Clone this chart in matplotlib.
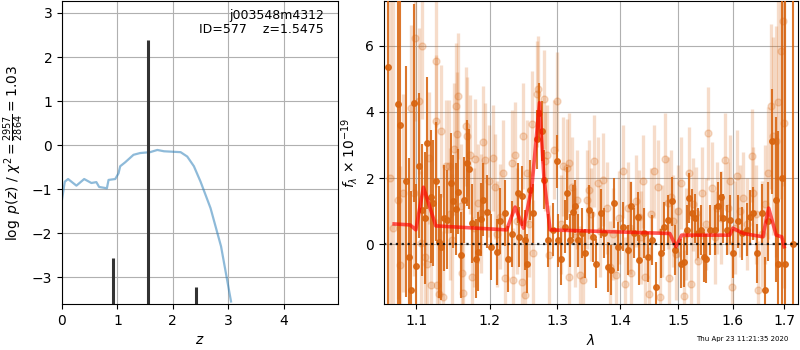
import numpy as np
import matplotlib
matplotlib.use("Agg")
import matplotlib.pyplot as plt

# --- p(z) panel ---
z_grid = [0.0, 0.05, 0.11, 0.26, 0.40, 0.53, 0.62, 0.67, 0.81, 0.84, 0.96, 1.02, 1.05, 1.14,
          1.29, 1.41, 1.59, 1.72, 1.84, 2.14, 2.26, 2.38, 2.50, 2.68, 2.87, 3.05]
logpz = [-1.24, -0.83, -0.77, -0.92, -0.77, -0.86, -0.84, -0.95, -0.98, -0.79, -0.77, -0.64, -0.48,
         -0.39, -0.22, -0.18, -0.16, -0.11, -0.14, -0.16, -0.26, -0.48, -0.83, -1.43, -2.30, -3.55]
z_peaks = [0.927, 1.545, 2.418]
peak_vals = [-2.57, 2.38, -3.23]

# --- spectrum panel: strong (dark) points ---
dark_lam = [1.064, 1.0765, 1.079, 1.087, 1.091, 1.094, 1.0975, 1.100, 1.104, 1.108, 1.1118, 1.1149,
            1.1193, 1.1228, 1.1268, 1.1304, 1.1334, 1.1371, 1.1415, 1.1460, 1.1496, 1.1528, 1.1560,
            1.1605, 1.1642, 1.1679, 1.1715, 1.1757, 1.1804, 1.1840, 1.1874, 1.1911, 1.1958, 1.2024,
            1.2101, 1.2148, 1.2220, 1.2267, 1.2321, 1.2405, 1.2429, 1.2473, 1.2513, 1.2547, 1.2587,
            1.2636, 1.2687, 1.2726, 1.2772, 1.2797, 1.2862, 1.2934, 1.2991, 1.3016, 1.3062, 1.3119,
            1.3155, 1.3197, 1.3239, 1.3275, 1.3327, 1.3381, 1.3433, 1.3502, 1.3557, 1.3610, 1.3691,
            1.3744, 1.3800, 1.3853, 1.3907, 1.3963, 1.4046, 1.4129, 1.4185, 1.4240, 1.4297, 1.4324,
            1.4409, 1.4467, 1.4533, 1.4610, 1.4697, 1.4754, 1.4814, 1.4890, 1.4948, 1.5049, 1.5108,
            1.5151, 1.5197, 1.5245, 1.5300, 1.5348, 1.5408, 1.5469, 1.5500, 1.5573, 1.5666, 1.5727,
            1.5772, 1.5820, 1.5884, 1.5946, 1.6009, 1.6104, 1.6168, 1.6264, 1.6328, 1.6380, 1.6457,
            1.6555, 1.6620, 1.6685, 1.6751, 1.6837, 1.6883, 1.6951, 1.7018, 1.7173]
dark_flux = [5.35, 4.23, 3.62, 1.90, -0.39, -1.40, 4.28, -0.67, 2.37, 1.04, 0.79, 3.07,
             1.44, 1.25, 1.90, 0.07, -0.08, 0.78, 0.73, 1.85, 1.29, 1.06, 1.59,
             -0.33, 1.34, 2.46, 2.27, 0.63, -0.44, -0.23, 0.75, 1.34, 0.98, -0.08,
             -0.23, 0.69, 0.93, -0.44, 0.30, 1.54, 0.22, 1.46, 0.12, -0.59, 1.64,
             0.93, 3.17, 3.98, 3.42, 1.95, 0.12, 0.43, 2.51, 0.12, -0.44, 0.53,
             1.54, 0.12, 0.98, 1.14, 0.12, 0.33, -0.28, 1.04, 0.22, -0.59, 0.93,
             0.33, -0.69, -0.79, 1.24, -0.08, 0.53, -0.18, 1.14, 0.33, 0.83, -0.49,
             0.33, -0.39, 0.12, -1.30, -0.28, 0.53, 0.73, 1.29, -0.18, -0.59, -0.54,
             0.43, 1.39, 0.93, 0.78, 0.33, 0.43, -0.39, -0.44, 0.43, 0.43, 1.14,
             1.44, 0.78, 0.43, 0.73, -0.28, 0.69, 0.33, 0.43, 0.83, 0.93, -0.28,
             0.93, -1.40, 0.69, 3.11, 1.34, -0.59, 2.00, -0.59, 0.00]
dark_err = [9, 9, 9, 3.5, 3.0, 3.0, 3.0, 2.5, 2.2, 2.0, 2.0, 2.0,
            2.0, 1.9, 1.8, 1.7, 1.6, 1.6, 1.5, 1.5, 1.4, 1.4, 1.3,
            1.3, 1.3, 1.3, 1.2, 1.2, 1.2, 1.2, 1.1, 1.1, 1.1, 1.0,
            1.0, 1.0, 1.0, 1.0, 1.0, 0.9, 0.9, 0.9, 0.9, 0.9, 0.9,
            0.9, 0.9, 0.9, 0.9, 0.9, 0.8, 0.8, 0.8, 0.8, 0.8, 0.8,
            0.8, 0.8, 0.8, 0.8, 0.8, 0.75, 0.75, 0.75, 0.75, 0.75, 0.75,
            0.75, 0.75, 0.75, 0.75, 0.75, 0.75, 0.75, 0.75, 0.75, 0.75, 0.75,
            0.75, 0.75, 0.75, 0.75, 0.75, 0.75, 0.75, 0.75, 0.75, 0.75, 0.75,
            0.75, 0.75, 0.75, 0.75, 0.75, 0.75, 0.75, 0.75, 0.75, 0.75, 0.75,
            0.75, 0.75, 0.75, 0.75, 0.75, 0.8, 0.8, 0.8, 0.8, 0.8, 0.9,
            0.9, 1.0, 1.2, 1.6, 2.5, 4.0, 6.0, 9, 9]

# --- spectrum panel: weak (light) points ---
light_lam = [1.0660, 1.0705, 1.0765, 1.0787, 1.0832, 1.0931, 1.0975, 1.0987, 1.1039, 1.1062, 1.1083,
             1.1114, 1.1141, 1.1171, 1.1193, 1.1259, 1.1265, 1.1273, 1.1304, 1.1334, 1.1361, 1.1393,
             1.1437, 1.1450, 1.1482, 1.1504, 1.1528, 1.1541, 1.1560, 1.1605, 1.1619, 1.1632, 1.1665,
             1.1687, 1.1725, 1.1757, 1.1780, 1.1790, 1.1836, 1.1874, 1.1911, 1.1939, 1.1991, 1.2043,
             1.2076, 1.2100, 1.2148, 1.2196, 1.2220, 1.2317, 1.2341, 1.2366, 1.2400, 1.2464, 1.2488,
             1.2513, 1.2538, 1.2570, 1.2621, 1.2636, 1.2687, 1.2711, 1.2797, 1.2812, 1.2847, 1.2877,
             1.2950, 1.2991, 1.3050, 1.3093, 1.3145, 1.3176, 1.3186, 1.3224, 1.3270, 1.3311, 1.3354,
             1.3406, 1.3460, 1.3502, 1.3530, 1.3578, 1.3642, 1.3670, 1.3718, 1.3780, 1.3837, 1.3890,
             1.3935, 1.3990, 1.4046, 1.4084, 1.4129, 1.4170, 1.4185, 1.4260, 1.4324, 1.4360, 1.4382,
             1.4421, 1.4495, 1.4520, 1.4581, 1.4640, 1.4679, 1.4720, 1.4772, 1.4814, 1.4842, 1.4872,
             1.4910, 1.4960, 1.5000, 1.5049, 1.5108, 1.5130, 1.5197, 1.5218, 1.5270, 1.5318, 1.5354,
             1.5426, 1.5490, 1.5542, 1.5604, 1.5660, 1.5697, 1.5780, 1.5852, 1.5910, 1.5946, 1.5978,
             1.6030, 1.6073, 1.6140, 1.6201, 1.6270, 1.6361, 1.6393, 1.6450, 1.6490, 1.6560, 1.6620,
             1.6685, 1.6732, 1.6783, 1.6837, 1.6883, 1.6931, 1.6984, 1.6990]
light_flux = [2.00, 0.50, 1.34, -0.64, 1.54, 4.13, 1.54, 6.23, 4.33, 0.02, 5.99,
              -0.39, -0.61, 2.61, -1.25, 5.55, 3.72, -1.25, -1.50, 3.42, -1.60, 2.35,
              2.35, 0.90, 0.12, 2.89, 4.18, 3.32, 4.48, 1.14, -0.89, -1.48, 3.57,
              3.27, 2.71, -0.99, 0.50, 2.58, 1.24, 0.93, 3.08, 2.56, 1.90, 2.61,
              1.74, 0.30, 0.83, 2.15, -1.04, 2.46, -1.10, 2.71, 0.70, -1.15, 3.27,
              -1.55, 2.15, 0.60, 3.65, -0.28, 4.54, 4.69, 4.38, 2.51, 2.71, -0.33,
              2.86, 4.33, 0.60, 2.35, 2.30, 2.46, -0.99, 1.74, 0.20, 1.34, -0.94,
              -1.10, 1.34, 1.64, 0.90, 2.51, 1.85, 0.40, 1.95, 1.10, -0.70, 0.30,
              -0.94, 0.80, 2.20, -1.20, 1.09, 0.50, -0.89, 1.30, 0.83, 0.20, 1.90,
              -1.00, -1.50, 0.90, 2.20, 1.74, -1.60, 0.40, 2.58, 1.24, -1.04, 1.44,
              0.70, -0.30, 1.00, 1.85, -1.58, 0.30, 2.15, -1.20, 1.20, 0.93, -0.50,
              1.54, 0.60, 3.35, 1.69, 0.20, 1.09, 0.80, 2.56, 1.10, 1.90, -1.30,
              0.50, 2.05, 1.00, 1.39, 0.60, 2.68, 1.54, 0.90, -1.40, 0.30, 1.20,
              2.15, 4.18, 3.27, 3.11, 4.30, 5.85, 6.77, 3.67]
light_err = [9, 9, 3.0, 3.0, 3.0, 2.5, 2.5, 2.5, 2.2, 2.2, 2.2,
             2.0, 2.0, 2.0, 2.0, 2.0, 2.0, 2.0, 2.0, 2.0, 2.0, 2.0,
             2.0, 2.0, 2.0, 2.0, 1.9, 1.9, 1.9, 1.9, 1.9, 1.9, 1.8,
             1.8, 1.8, 1.8, 1.8, 1.8, 1.8, 1.8, 1.7, 1.7, 1.7, 1.6,
             1.6, 1.6, 1.6, 1.6, 1.6, 1.6, 1.6, 1.6, 1.6, 1.6, 1.6,
             1.6, 1.6, 1.6, 1.6, 1.6, 1.6, 1.6, 1.5, 1.5, 1.5, 1.5,
             1.5, 1.5, 1.5, 1.5, 1.5, 1.5, 1.5, 1.5, 1.5, 1.5, 1.5,
             1.5, 1.5, 1.5, 1.4, 1.4, 1.4, 1.4, 1.4, 1.4, 1.4, 1.4,
             1.4, 1.4, 1.4, 1.4, 1.4, 1.4, 1.4, 1.4, 1.4, 1.4, 1.4,
             1.4, 1.4, 1.4, 1.4, 1.4, 1.4, 1.4, 1.4, 1.4, 1.4, 1.4,
             1.4, 1.4, 1.4, 1.4, 1.4, 1.4, 1.4, 1.4, 1.4, 1.4, 1.4,
             1.4, 1.4, 1.4, 1.4, 1.4, 1.4, 1.4, 1.4, 1.4, 1.4, 1.4,
             1.4, 1.4, 1.4, 1.4, 1.4, 1.4, 1.4, 1.5, 1.5, 1.6, 1.8,
             2.0, 2.5, 3.0, 3.5, 4.0, 4.5, 5.0, 5.0]

# --- best-fit model ---
model_lam = [1.0718, 1.0922, 1.0996, 1.1096, 1.1259, 1.2244, 1.2366, 1.2488, 1.2612, 1.2728,
             1.2797, 1.2888, 1.485, 1.4958, 1.5058, 1.594, 1.600, 1.620, 1.6576, 1.669, 1.684,
             1.695, 1.700]
model_flux = [0.61, 0.58, 0.43, 1.72, 0.55, 0.43, 1.12, 0.48, 1.70, 4.28,
              1.95, 0.43, 0.32, -0.08, 0.27, 0.27, 0.48, 0.32, 0.22, 1.09, 0.27,
              0.22, -0.08]

lam_ticks = [1.1, 1.2, 1.3, 1.4, 1.5, 1.6, 1.7]

orange = '#d8640f'

fig = plt.figure(figsize=(8, 3.5), dpi=100)

# ---- left: redshift PDF ----
ax1 = fig.add_axes([0.0775, 0.131, 0.345, 0.866])
ax1.plot(z_grid, logpz, color='tab:blue', alpha=0.5, lw=1.6)
ax1.vlines(z_peaks, -3.61, peak_vals, color='0.2', lw=2.2)
ax1.set_xlim(0, 4.98)
ax1.set_ylim(-3.61, 3.27)
ax1.set_xticks([0, 1, 2, 3, 4])
ax1.set_yticks([-3, -2, -1, 0, 1, 2, 3])
ax1.grid(True)
ax1.set_axisbelow(True)
ax1.set_xlabel(r'$z$')
ax1.set_ylabel(r'$\log\ p(z)$ / $\chi^2=\frac{2957}{2864}=1.03$')
ax1.text(0.95, 0.975, 'j003548m4312\nID=577    z=1.5475', transform=ax1.transAxes,
         ha='right', va='top', fontsize=9, linespacing=1.1)

# ---- right: spectrum ----
ax2 = fig.add_axes([0.48, 0.131, 0.5175, 0.866])
ax2.errorbar(light_lam, light_flux, yerr=light_err, fmt='o', color=orange, alpha=0.22,
             markersize=5, elinewidth=2.4, capsize=0, zorder=2)
ax2.errorbar(dark_lam, dark_flux, yerr=dark_err, fmt='o', color=orange, alpha=0.88,
             markersize=4, elinewidth=1.5, capsize=0, zorder=3)
ax2.plot(model_lam, model_flux, color='r', alpha=0.65, lw=2.6, zorder=4)
ax2.axhline(0, color='k', linestyle=':', lw=1.6, alpha=0.85, zorder=5)
ax2.set_xscale('log')
ax2.set_xticks(lam_ticks)
ax2.set_xticklabels([str(t) for t in lam_ticks])
ax2.minorticks_off()
ax2.set_xlim(1.059, 1.728)
ax2.set_ylim(-1.82, 7.36)
ax2.set_yticks([0, 2, 4, 6])
ax2.grid(True)
ax2.set_axisbelow(True)
ax2.set_xlabel(r'$\lambda$')
ax2.set_ylabel(r'$f_\lambda\, \times 10^{-19}$')

fig.text(0.985, 0.022, 'Thu Apr 23 11:21:35 2020', ha='right', va='bottom', fontsize=5)

fig.savefig('out.png', dpi=100)
